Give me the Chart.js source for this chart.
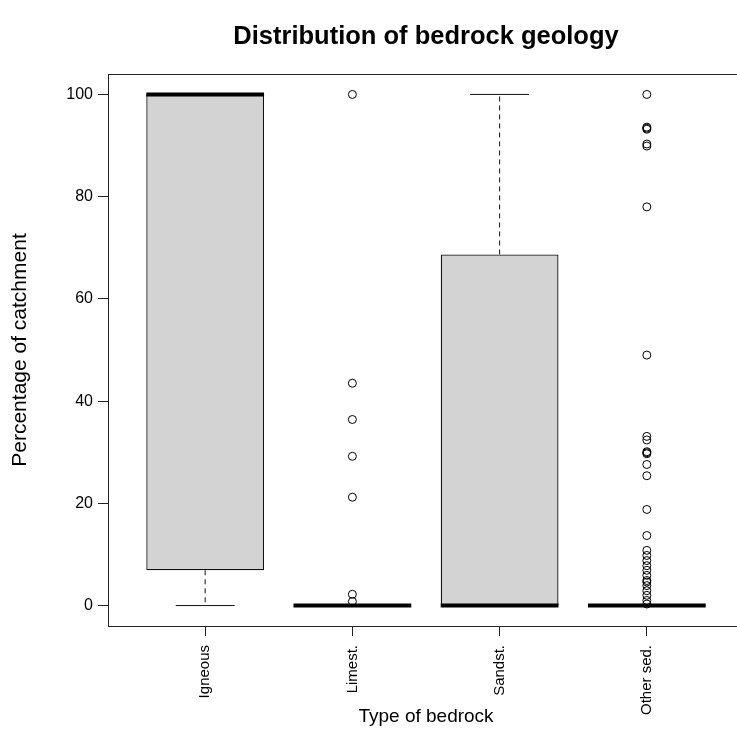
<!DOCTYPE html>
<html>
<head>
<meta charset="utf-8">
<script src="https://cdn.jsdelivr.net/npm/chart.js@4"></script>
<style>
  html, body { margin: 0; padding: 0; background: #fff; overflow: hidden; }
  #wrap { width: 737px; height: 729px; overflow: hidden; }
</style>
</head>
<body>
<div id="wrap"><canvas id="boxChart" width="760" height="729"></canvas></div>
<script>
const categories = ["Igneous", "Limest.", "Sandst.", "Other sed."];
const whiskerLow = [0, 0, 0, 0];
const q1 = [6.9, 0, 0, 0];
const median = [100, 0, 0, 0];
const q3 = [100, 0, 68.7, 0];
const whiskerHigh = [100, 0, 100, 0];
const outliersLimest = [100, 43.5, 36.4, 29.2, 21.2, 2.2, 0.8];
const outliersOtherSed = [100, 93.6, 93.4, 93.2, 90.3, 89.9, 78.0, 49.0, 33.1, 32.4, 30.1, 29.9, 29.7,
    27.6, 25.4, 18.8, 13.7, 10.8, 9.8, 8.8, 7.8, 6.9, 5.9, 4.9, 4.6, 3.9, 2.9, 2.0, 1.0, 0.3];
const yTicks = [0, 20, 40, 60, 80, 100];

const FONT = "'Liberation Sans', Arial, sans-serif";
Chart.defaults.color = "#000";
Chart.defaults.font.family = FONT;

// build line segments, broken with null points
function segments(list) {
    const out = [];
    list.forEach(s => {
        out.push({ x: s[0], y: s[1] }, { x: s[2], y: s[3] }, { x: s[0], y: null });
    });
    return out;
}

const boxData = categories.map((c, i) => ({ x: i + 1, y: [q1[i], q3[i]] }));

const medianSegs = segments(categories.map((c, i) => [i + 0.6, median[i], i + 1.4, median[i]]));

const whiskerList = [];
categories.forEach((c, i) => {
    if (whiskerHigh[i] > q3[i]) whiskerList.push([i + 1, q3[i], i + 1, whiskerHigh[i]]);
    if (whiskerLow[i] < q1[i]) whiskerList.push([i + 1, q1[i], i + 1, whiskerLow[i]]);
});
const whiskerSegs = segments(whiskerList);

const stapleList = [];
categories.forEach((c, i) => {
    stapleList.push([i + 0.8, whiskerLow[i], i + 1.2, whiskerLow[i]]);
    stapleList.push([i + 0.8, whiskerHigh[i], i + 1.2, whiskerHigh[i]]);
});
const stapleSegs = segments(stapleList);

const outlierPoints = [
    ...outliersLimest.map(v => ({ x: 2, y: v })),
    ...outliersOtherSed.map(v => ({ x: 4, y: v }))
];

const framePlugin = {
    id: "frame",
    afterDraw(chart) {
        const { ctx, chartArea: a } = chart;
        ctx.save();
        ctx.strokeStyle = "#222";
        ctx.lineWidth = 1;
        ctx.strokeRect(Math.round(a.left) + 0.5, Math.round(a.top) + 0.5,
            Math.round(a.right - a.left), Math.round(a.bottom - a.top));
        ctx.restore();
    }
};

new Chart(document.getElementById("boxChart"), {
    data: {
        datasets: [
            {
                type: "scatter",
                data: outlierPoints,
                order: 0,
                pointStyle: "circle",
                pointRadius: 4,
                pointBorderWidth: 1,
                pointBorderColor: "#000",
                pointBackgroundColor: "rgba(0,0,0,0)"
            },
            {
                type: "line",
                data: medianSegs,
                order: 1,
                borderColor: "#000",
                borderWidth: 4,
                borderCapStyle: "butt",
                pointRadius: 0,
                spanGaps: false
            },
            {
                type: "line",
                data: stapleSegs,
                order: 2,
                borderColor: "#111",
                borderWidth: 1,
                pointRadius: 0,
                spanGaps: false
            },
            {
                type: "line",
                data: whiskerSegs,
                order: 3,
                borderColor: "#111",
                borderWidth: 1,
                borderDash: [5, 4],
                pointRadius: 0,
                spanGaps: false
            },
            {
                type: "bar",
                data: boxData,
                order: 4,
                backgroundColor: "#d3d3d3",
                borderColor: "#111",
                borderWidth: 1.3,
                borderSkipped: false,
                barPercentage: 0.8,
                categoryPercentage: 1
            }
        ]
    },
    options: {
        responsive: false,
        animation: false,
        layout: { padding: { top: 0, left: 0, right: 16, bottom: 0 } },
        plugins: {
            legend: { display: false },
            tooltip: { enabled: false },
            title: {
                display: true,
                fullSize: false,
                text: "Distribution of bedrock geology",
                color: "#000",
                font: { family: FONT, size: 25.5, weight: "bold", lineHeight: 1.2 },
                padding: { top: 21.7, bottom: 21.7 }
            }
        },
        scales: {
            x: {
                type: "linear",
                offset: false,
                min: 0.34,
                max: 4.66,
                afterFit: s => { s.height = 103; },
                afterBuildTicks: s => { s.ticks = [1, 2, 3, 4].map(v => ({ value: v })); },
                grid: { offset: false, drawOnChartArea: false, drawTicks: true, tickLength: 10, tickColor: "#222" },
                border: { display: false },
                ticks: {
                    autoSkip: false,
                    minRotation: 90,
                    maxRotation: 90,
                    padding: 9,
                    color: "#000",
                    font: { family: FONT, size: 15 },
                    callback: v => categories[v - 1] || ""
                },
                title: {
                    display: true,
                    text: "Type of bedrock",
                    color: "#000",
                    font: { family: FONT, size: 19, lineHeight: 1.2 },
                    padding: { top: 0, bottom: 1 }
                }
            },
            y: {
                type: "linear",
                min: -4,
                max: 104,
                afterFit: s => { s.width = 108; },
                afterBuildTicks: s => { s.ticks = yTicks.map(v => ({ value: v })); },
                grid: { drawOnChartArea: false, drawTicks: true, tickLength: 10, tickColor: "#222" },
                border: { display: false },
                ticks: {
                    padding: 5,
                    color: "#000",
                    font: { family: FONT, size: 16 }
                },
                title: {
                    display: true,
                    text: "Percentage of catchment",
                    color: "#000",
                    font: { family: FONT, size: 21, lineHeight: 1.2 },
                    padding: { top: 7.4, bottom: 0 }
                }
            }
        }
    },
    plugins: [framePlugin]
});
</script>
</body>
</html>
